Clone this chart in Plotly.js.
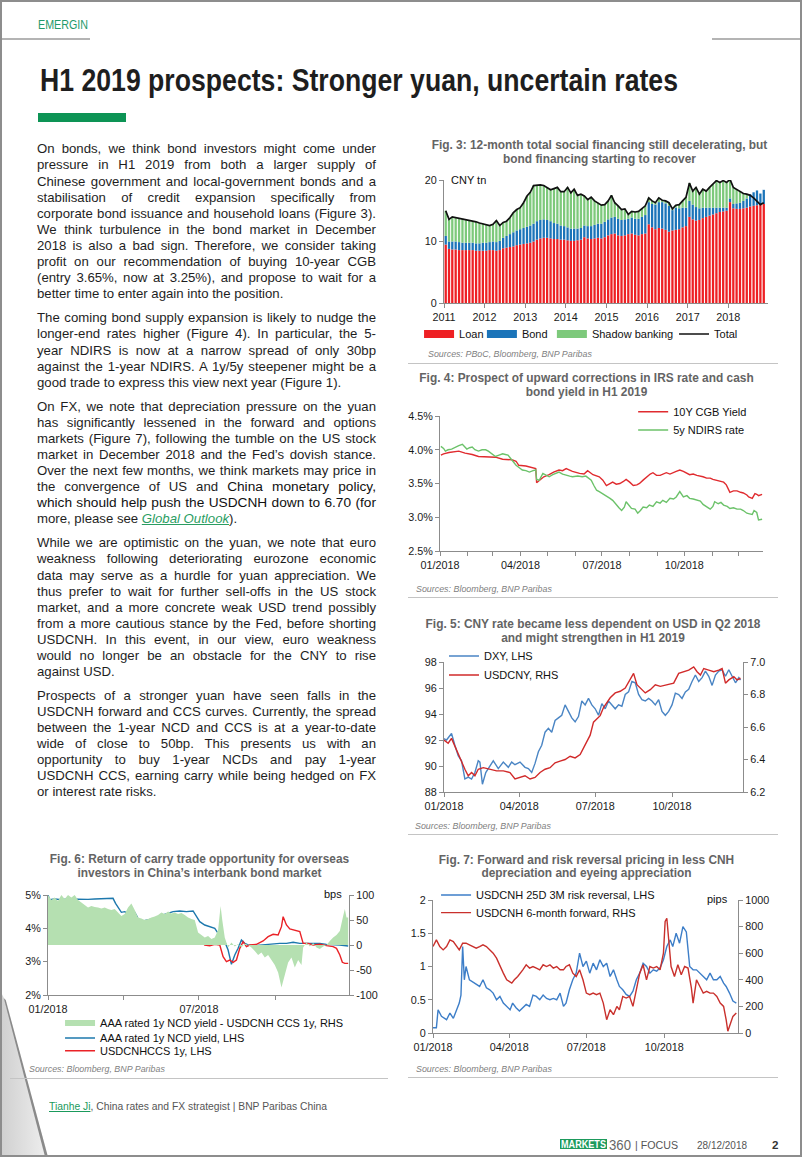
<!DOCTYPE html>
<html><head><meta charset="utf-8">
<script src="https://cdn.plot.ly/plotly-3.0.1.min.js"></script>
<style>
html,body{margin:0;padding:0;background:#fff;}
#page{position:relative;width:802px;height:1157px;overflow:hidden;background:#fff;font-family:"Liberation Sans",Arial,sans-serif;}
.abs{position:absolute;}
.fit{transform-origin:0 0;white-space:nowrap;}
.ln{position:absolute;left:37px;height:16px;line-height:16px;font-size:13.2px;color:#1e1e1e;white-space:nowrap;}
.big{font-size:13.7px;color:#111;}
.lk{color:#2a9d62;font-style:italic;text-decoration:underline;}
.ctitle{position:absolute;width:420px;font-weight:bold;font-size:11.9px;line-height:14px;color:#646464;text-align:center;white-space:nowrap;}
.src{position:absolute;font-style:italic;font-size:8.9px;line-height:10px;color:#7f7f7f;white-space:nowrap;}
.sep{position:absolute;height:1px;background:#c4c4c4;}
.chart{position:absolute;}
</style></head>
<body>
<div id="page">
  <div class="abs" style="left:0;top:990px;width:48px;height:167px;background:linear-gradient(to right,#cfcfcf,#efefef);clip-path:polygon(0 0,10% 6%,100% 100%,0 100%);"></div>
  <div class="abs" style="left:0;top:990px;width:48px;height:167px;background:#8a8a8a;clip-path:polygon(8% 5%,12% 6%,100% 100%,94% 100%);"></div>

  <div class="abs fit" data-w="50" style="left:38px;top:17px;font-size:13px;line-height:16px;color:#1f9a6b;">EMERGIN</div>
  <div class="abs" style="left:0;top:38px;width:90px;height:2px;background:#b4b4b4"></div>
  <div class="abs" style="left:712px;top:38px;width:90px;height:2px;background:#b4b4b4"></div>
  <div class="abs fit" data-w="638" style="left:40px;top:64.5px;font-size:30.5px;line-height:30px;font-weight:bold;color:#1e1e1e;">H1 2019 prospects: Stronger yuan, uncertain rates</div>
  <div class="abs" style="left:38px;top:113px;width:88px;height:9px;background:#0d9455"></div>

  <div id="body"></div>

  <div class="ctitle" style="left:389.5px;top:138px;">Fig. 3: 12-month total social financing still decelerating, but<br>bond financing starting to recover</div>
  <div class="ctitle" style="left:376.5px;top:371px;">Fig. 4: Prospect of upward corrections in IRS rate and cash<br>bond yield in H1 2019</div>
  <div class="ctitle" style="left:383px;top:617.3px;">Fig. 5: CNY rate became less dependent on USD in Q2 2018<br>and might strengthen in H1 2019</div>
  <div class="ctitle" style="left:-10.5px;top:852.3px;">Fig. 6: Return of carry trade opportunity for overseas<br>investors in China’s interbank bond market</div>
  <div class="ctitle" style="left:376.5px;top:853.7px;line-height:13.4px;">Fig. 7: Forward and risk reversal pricing in less CNH<br>depreciation and eyeing appreciation</div>

  <div id="fig3" class="chart" style="left:400px;top:140px;width:400px;height:230px;"></div>
  <div id="fig4" class="chart" style="left:400px;top:395px;width:400px;height:205px;"></div>
  <div id="fig5" class="chart" style="left:400px;top:640px;width:400px;height:190px;"></div>
  <div id="fig6" class="chart" style="left:0px;top:880px;width:400px;height:190px;"></div>
  <div id="fig7" class="chart" style="left:400px;top:880px;width:400px;height:190px;"></div>

  <div class="src" style="left:428px;top:349px;">Sources: PBoC, Bloomberg, BNP Paribas</div>
  <div class="src" style="left:416px;top:584px;">Sources: Bloomberg, BNP Paribas</div>
  <div class="src" style="left:415px;top:821px;">Sources: Bloomberg, BNP Paribas</div>
  <div class="src" style="left:29px;top:1064px;">Sources: Bloomberg, BNP Paribas</div>
  <div class="src" style="left:416px;top:1064px;">Sources: Bloomberg, BNP Paribas</div>

  <div class="sep" style="left:408px;top:363px;width:370px;"></div>
  <div class="sep" style="left:408px;top:597px;width:370px;"></div>
  <div class="sep" style="left:408px;top:834px;width:370px;"></div>
  <div class="sep" style="left:10px;top:1078px;width:378px;"></div>
  <div class="sep" style="left:408px;top:1077px;width:370px;"></div>

  <div class="abs fit" data-w="278" style="left:48.6px;top:1099px;font-size:11.3px;line-height:14px;color:#555;"><span style="color:#1a9a5c;text-decoration:underline;">Tianhe Ji</span>, China rates and FX strategist | BNP Paribas China</div>
  <div class="abs" style="left:560px;top:1139px;width:47px;height:10px;background:#1d9a5c;overflow:hidden;">
    <div class="fit" data-w="45" style="position:absolute;left:1px;top:-1px;color:#fff;font-weight:bold;font-size:11.5px;line-height:12px;">MARKETS</div>
  </div>
  <div class="abs fit" data-w="22" style="left:608.5px;top:1136.5px;font-size:14px;line-height:16px;color:#666;">360</div>
  <div class="abs fit" data-w="43" style="left:635px;top:1137.5px;font-size:11.6px;line-height:13px;color:#555;">| FOCUS</div>
  <div class="abs fit" data-w="50" style="left:697px;top:1137.5px;font-size:11.6px;line-height:13px;color:#555;">28/12/2018</div>
  <div class="abs" style="left:772px;top:1137.5px;font-size:11.6px;line-height:13px;color:#333;font-weight:bold;">2</div>

  <div class="abs" style="left:0;top:0;width:802px;height:1157px;box-sizing:border-box;border:2px solid #8d8d8d;pointer-events:none;"></div>
</div>

<script>
// ---------------- DATA ----------------
// Fig. 3 – 12-month total social financing (CNY tn), monthly Jan 2011 – Nov 2018
const months3 = [
'2011-01','2011-02','2011-03','2011-04','2011-05','2011-06','2011-07','2011-08','2011-09','2011-10','2011-11','2011-12',
'2012-01','2012-02','2012-03','2012-04','2012-05','2012-06','2012-07','2012-08','2012-09','2012-10','2012-11','2012-12',
'2013-01','2013-02','2013-03','2013-04','2013-05','2013-06','2013-07','2013-08','2013-09','2013-10','2013-11','2013-12',
'2014-01','2014-02','2014-03','2014-04','2014-05','2014-06','2014-07','2014-08','2014-09','2014-10','2014-11','2014-12',
'2015-01','2015-02','2015-03','2015-04','2015-05','2015-06','2015-07','2015-08','2015-09','2015-10','2015-11','2015-12',
'2016-01','2016-02','2016-03','2016-04','2016-05','2016-06','2016-07','2016-08','2016-09','2016-10','2016-11','2016-12',
'2017-01','2017-02','2017-03','2017-04','2017-05','2017-06','2017-07','2017-08','2017-09','2017-10','2017-11','2017-12',
'2018-01','2018-02','2018-03','2018-04','2018-05','2018-06','2018-07','2018-08','2018-09','2018-10','2018-11'];
const loan3 = [
9.5,8.8,8.7,8.7,8.6,8.6,8.6,8.6,8.6,8.5,8.5,8.5,
8.5,8.6,8.6,8.5,8.6,8.9,9.0,9.1,9.2,9.4,9.5,9.6,
9.7,9.8,10.0,10.3,10.5,10.6,10.6,10.5,10.4,10.4,10.3,10.3,
10.2,10.1,10.1,10.2,10.3,10.7,10.5,10.4,10.5,10.6,10.5,10.7,
11.0,11.2,11.3,11.0,10.9,11.0,11.2,11.3,11.1,11.0,11.2,11.3,
12.8,12.3,12.0,12.2,12.1,11.9,11.6,11.8,11.9,12.0,12.3,12.5,
14.0,13.6,13.4,13.5,13.8,14.0,14.2,14.4,14.6,14.8,14.9,15.0,
16.4,15.4,15.3,15.3,15.4,15.5,15.7,15.8,15.9,16.0,16.1];
const bond3 = [
1.4,1.2,1.3,1.3,1.3,1.2,1.2,1.2,1.2,1.2,1.2,1.3,
1.3,1.3,1.4,1.4,1.5,1.7,1.9,2.1,2.3,2.4,2.5,2.6,
2.7,2.8,2.9,3.0,3.0,3.0,2.9,2.8,2.6,2.5,2.3,2.2,
2.1,2.0,2.0,1.9,1.9,1.9,2.0,2.1,2.2,2.3,2.4,2.5,
2.6,2.7,2.7,2.7,2.6,2.6,2.5,2.6,2.6,2.7,2.8,3.0,
3.6,3.8,4.0,4.2,4.3,4.3,4.2,3.3,3.6,3.4,3.2,3.0,
2.6,2.4,2.2,1.9,1.7,1.5,1.3,1.1,0.9,0.7,0.6,0.5,
0.6,0.7,0.9,1.0,1.2,1.5,2.0,2.2,2.4,1.8,2.3];
const shadow3 = [
4.1,3.6,4.0,3.9,3.9,3.9,3.7,3.6,3.5,3.5,3.3,3.1,
3.0,2.7,2.8,3.5,2.5,2.5,2.4,2.7,3.2,3.4,3.5,4.1,
5.0,5.4,6.2,5.9,5.7,5.5,5.3,5.1,5.6,5.9,5.5,5.6,
6.5,5.8,6.4,5.4,5.5,4.8,4.3,4.7,3.9,3.4,3.0,2.8,
3.0,3.6,2.3,2.1,1.7,1.7,0.7,1.0,1.1,1.2,1.3,1.5,
0.7,0.5,0.3,0.7,0.3,0.4,0.5,0.2,0.4,0.6,1.1,1.7,
2.9,2.2,3.2,2.3,3.0,2.7,3.3,3.8,4.4,4.1,4.4,4.1,
3.1,2.7,2.3,1.9,1.2,0.7,-0.2,-0.9,-1.7,-1.8,-2.1];
const total3 = [
15.0,13.6,14.0,13.9,13.8,13.7,13.5,13.4,13.3,13.2,13.0,12.9,
12.8,12.6,12.8,13.4,12.6,13.1,13.3,13.9,14.7,15.2,15.5,16.3,
17.4,18.0,19.1,19.2,19.2,19.1,18.8,18.4,18.6,18.8,18.1,18.1,
18.8,17.9,18.5,17.5,17.7,17.4,16.8,17.2,16.6,16.3,15.9,16.0,
16.6,17.5,16.3,15.8,15.2,15.3,14.4,14.9,14.8,14.9,15.3,15.8,
17.1,16.6,16.3,17.1,16.7,16.6,16.3,15.3,15.9,16.0,16.6,17.2,
19.5,18.2,18.8,17.7,18.5,18.2,18.8,19.3,19.9,19.6,19.9,19.6,
20.1,18.8,18.5,18.2,17.8,17.7,17.5,17.1,16.6,16.0,16.3];
const names3 = ['Loan','Bond','Shadow banking','Total'];

// Fig. 4 – 10Y CGB yield and 5y NDIRS rate (%)
const cgbDates = ['2018-01-02','2018-01-05','2018-01-11','2018-01-16','2018-01-22','2018-01-29','2018-02-06','2018-02-13','2018-02-21','2018-02-28','2018-03-04','2018-03-12','2018-03-16','2018-03-23','2018-03-27','2018-03-30','2018-04-07','2018-04-14','2018-04-18','2018-04-19','2018-04-23','2018-04-27','2018-05-03','2018-05-08','2018-05-14','2018-05-18','2018-05-22','2018-05-29','2018-06-06','2018-06-11','2018-06-15','2018-06-21','2018-06-28','2018-07-02','2018-07-06','2018-07-10','2018-07-13','2018-07-17','2018-07-21','2018-07-25','2018-07-28','2018-08-01','2018-08-05','2018-08-09','2018-08-12','2018-08-16','2018-08-20','2018-08-24','2018-08-27','2018-08-31','2018-09-04','2018-09-08','2018-09-11','2018-09-15','2018-09-19','2018-09-22','2018-09-26','2018-09-30','2018-10-07','2018-10-11','2018-10-15','2018-10-19','2018-10-22','2018-10-26','2018-10-30','2018-11-02','2018-11-06','2018-11-10','2018-11-14','2018-11-17','2018-11-19','2018-11-21','2018-11-25','2018-11-29','2018-12-03','2018-12-06','2018-12-10','2018-12-12','2018-12-16','2018-12-19','2018-12-21','2018-12-23','2018-12-27'];
const cgbYield = [3.92,3.94,3.96,3.97,3.98,3.95,3.93,3.90,3.90,3.89,3.89,3.86,3.86,3.85,3.83,3.77,3.76,3.74,3.72,3.51,3.55,3.60,3.63,3.67,3.70,3.69,3.72,3.68,3.65,3.64,3.69,3.63,3.60,3.55,3.47,3.50,3.52,3.49,3.50,3.53,3.56,3.52,3.47,3.48,3.50,3.55,3.60,3.64,3.66,3.62,3.62,3.65,3.66,3.64,3.67,3.68,3.70,3.68,3.63,3.64,3.62,3.61,3.60,3.58,3.58,3.56,3.55,3.53,3.52,3.48,3.43,3.37,3.39,3.39,3.37,3.36,3.33,3.30,3.28,3.35,3.34,3.32,3.34];
const ndirsDates = ['2018-01-02','2018-01-05','2018-01-07','2018-01-10','2018-01-14','2018-01-18','2018-01-22','2018-01-26','2018-01-31','2018-02-03','2018-02-06','2018-02-09','2018-02-13','2018-02-17','2018-02-21','2018-02-24','2018-02-27','2018-03-04','2018-03-08','2018-03-12','2018-03-15','2018-03-18','2018-03-21','2018-03-24','2018-03-27','2018-03-31','2018-04-03','2018-04-07','2018-04-11','2018-04-15','2018-04-18','2018-04-19','2018-04-22','2018-04-26','2018-04-30','2018-05-03','2018-05-07','2018-05-10','2018-05-14','2018-05-18','2018-05-22','2018-05-26','2018-05-29','2018-06-04','2018-06-09','2018-06-13','2018-06-16','2018-06-19','2018-06-22','2018-06-25','2018-06-28','2018-07-02','2018-07-06','2018-07-10','2018-07-13','2018-07-17','2018-07-20','2018-07-23','2018-07-26','2018-07-28','2018-07-31','2018-08-03','2018-08-07','2018-08-10','2018-08-13','2018-08-16','2018-08-20','2018-08-23','2018-08-27','2018-08-31','2018-09-04','2018-09-07','2018-09-11','2018-09-15','2018-09-19','2018-09-22','2018-09-26','2018-09-30','2018-10-04','2018-10-07','2018-10-11','2018-10-15','2018-10-19','2018-10-22','2018-10-26','2018-10-30','2018-11-02','2018-11-04','2018-11-08','2018-11-11','2018-11-14','2018-11-18','2018-11-21','2018-11-25','2018-11-29','2018-12-03','2018-12-06','2018-12-10','2018-12-13','2018-12-16','2018-12-18','2018-12-20','2018-12-21','2018-12-23','2018-12-27'];
const ndirsRate = [4.05,4.02,3.98,4.00,4.01,4.04,4.06,4.08,4.01,4.03,4.04,4.00,3.98,4.00,4.00,3.98,3.95,3.90,3.92,3.94,3.93,3.92,3.87,3.82,3.77,3.73,3.70,3.69,3.67,3.69,3.70,3.56,3.55,3.65,3.62,3.60,3.63,3.65,3.67,3.64,3.62,3.61,3.60,3.61,3.60,3.61,3.58,3.55,3.47,3.40,3.38,3.35,3.32,3.28,3.25,3.18,3.14,3.10,3.15,3.23,3.17,3.13,3.12,3.06,3.10,3.15,3.14,3.18,3.16,3.23,3.21,3.25,3.22,3.28,3.27,3.30,3.38,3.30,3.32,3.28,3.27,3.25,3.24,3.19,3.16,3.12,3.16,3.23,3.20,3.22,3.18,3.16,3.13,3.14,3.12,3.12,3.10,3.06,3.05,3.04,3.10,3.08,3.07,2.96,2.97];

// Fig. 5 – DXY (LHS) and USDCNY (RHS)
const dxyDates = ['2018-01-01','2018-01-04','2018-01-07','2018-01-10','2018-01-14','2018-01-18','2018-01-22','2018-01-26','2018-01-30','2018-02-03','2018-02-07','2018-02-11','2018-02-13','2018-02-16','2018-02-20','2018-02-23','2018-03-01','2018-03-07','2018-03-13','2018-03-19','2018-03-23','2018-03-27','2018-04-02','2018-04-08','2018-04-12','2018-04-16','2018-04-20','2018-04-24','2018-04-28','2018-05-02','2018-05-06','2018-05-10','2018-05-14','2018-05-18','2018-05-22','2018-05-26','2018-05-30','2018-06-03','2018-06-07','2018-06-11','2018-06-15','2018-06-19','2018-06-23','2018-06-27','2018-07-01','2018-07-05','2018-07-09','2018-07-13','2018-07-17','2018-07-21','2018-07-25','2018-07-29','2018-08-02','2018-08-06','2018-08-10','2018-08-14','2018-08-18','2018-08-22','2018-08-26','2018-08-30','2018-09-03','2018-09-07','2018-09-11','2018-09-15','2018-09-19','2018-09-23','2018-09-27','2018-10-01','2018-10-05','2018-10-09','2018-10-13','2018-10-17','2018-10-21','2018-10-25','2018-10-29','2018-11-02','2018-11-06','2018-11-10','2018-11-14','2018-11-18','2018-11-22','2018-11-26','2018-11-30','2018-12-04','2018-12-08','2018-12-12','2018-12-16','2018-12-20','2018-12-22'];
const dxy = [92.1,92.0,92.25,92.5,91.6,90.8,90.4,89.0,89.15,89.0,89.5,90.4,90.3,88.6,89.5,89.8,90.4,89.8,90.3,89.9,90.3,90.1,90.3,89.9,89.8,89.5,90.2,91.1,91.6,92.6,92.9,92.6,93.5,93.7,93.9,94.7,94.2,93.7,93.4,93.8,95.0,94.7,95.2,94.7,94.4,93.9,94.8,94.4,95.0,94.7,94.4,94.7,94.6,95.5,95.7,96.5,96.4,95.5,95.1,95.0,95.2,95.0,94.7,95.1,94.2,93.9,94.2,94.7,95.6,95.5,95.2,95.7,95.9,96.5,97.0,96.5,96.8,97.3,96.9,96.2,97.0,97.3,97.4,96.9,97.4,96.9,96.4,96.8,96.6];
const cnyDates = ['2018-01-01','2018-01-06','2018-01-10','2018-01-14','2018-01-18','2018-01-22','2018-01-26','2018-01-30','2018-02-03','2018-02-07','2018-02-11','2018-02-17','2018-02-25','2018-03-05','2018-03-13','2018-03-21','2018-03-27','2018-04-02','2018-04-08','2018-04-14','2018-04-20','2018-04-26','2018-05-02','2018-05-08','2018-05-14','2018-05-20','2018-05-26','2018-06-01','2018-06-07','2018-06-13','2018-06-17','2018-06-21','2018-06-25','2018-06-29','2018-07-03','2018-07-07','2018-07-11','2018-07-15','2018-07-19','2018-07-25','2018-07-31','2018-08-06','2018-08-12','2018-08-16','2018-08-20','2018-08-24','2018-08-30','2018-09-05','2018-09-11','2018-09-17','2018-09-25','2018-10-03','2018-10-09','2018-10-15','2018-10-21','2018-10-27','2018-10-31','2018-11-04','2018-11-08','2018-11-14','2018-11-20','2018-11-26','2018-11-30','2018-12-04','2018-12-08','2018-12-14','2018-12-18','2018-12-22'];
const usdcny = [6.52,6.50,6.53,6.48,6.43,6.39,6.34,6.30,6.32,6.30,6.34,6.35,6.34,6.33,6.33,6.32,6.28,6.29,6.30,6.28,6.29,6.32,6.34,6.35,6.38,6.39,6.40,6.42,6.41,6.43,6.47,6.50,6.55,6.63,6.65,6.67,6.72,6.75,6.78,6.81,6.82,6.84,6.89,6.93,6.86,6.84,6.81,6.83,6.86,6.85,6.86,6.87,6.93,6.94,6.95,6.97,6.94,6.92,6.96,6.95,6.94,6.95,6.96,6.87,6.89,6.91,6.89,6.90];

// Fig. 6 – NCD vs CCS
const spreadDates = ['2018-01-01','2018-01-05','2018-01-09','2018-01-13','2018-01-17','2018-01-21','2018-01-25','2018-01-29','2018-02-02','2018-02-06','2018-02-10','2018-02-14','2018-02-18','2018-02-22','2018-02-26','2018-03-02','2018-03-06','2018-03-10','2018-03-14','2018-03-18','2018-03-22','2018-03-26','2018-03-30','2018-04-03','2018-04-07','2018-04-11','2018-04-15','2018-04-19','2018-04-23','2018-04-27','2018-05-01','2018-05-05','2018-05-09','2018-05-13','2018-05-17','2018-05-21','2018-05-25','2018-05-29','2018-06-02','2018-06-06','2018-06-10','2018-06-14','2018-06-18','2018-06-22','2018-06-26','2018-06-30','2018-07-04','2018-07-08','2018-07-12','2018-07-16','2018-07-20','2018-07-24','2018-07-27','2018-07-29','2018-08-01','2018-08-05','2018-08-09','2018-08-13','2018-08-17','2018-08-21','2018-08-25','2018-08-29','2018-09-02','2018-09-06','2018-09-10','2018-09-14','2018-09-18','2018-09-22','2018-09-26','2018-09-30','2018-10-04','2018-10-08','2018-10-12','2018-10-16','2018-10-20','2018-10-24','2018-10-28','2018-11-01','2018-11-03','2018-11-07','2018-11-11','2018-11-15','2018-11-19','2018-11-23','2018-11-27','2018-12-01','2018-12-05','2018-12-09','2018-12-13','2018-12-17','2018-12-21','2018-12-23','2018-12-25','2018-12-27'];
const spreadBps = [100,90,95,88,100,92,100,95,100,90,85,80,75,78,76,75,73,75,72,70,72,65,58,62,75,83,70,55,53,50,52,55,57,60,65,62,67,63,65,62,64,60,55,52,50,25,20,15,18,12,15,30,78,50,15,-5,5,-3,2,-5,3,0,-5,-12,-20,-15,-25,-20,-30,-40,-55,-85,-60,-35,-25,-45,-30,-40,-5,5,-3,4,-5,-8,-3,0,8,15,20,28,58,72,55,55];
const ncdDates = ['2018-01-01','2018-01-03','2018-01-09','2018-01-17','2018-01-25','2018-02-02','2018-02-10','2018-02-18','2018-02-26','2018-03-06','2018-03-14','2018-03-20','2018-03-23','2018-03-26','2018-03-30','2018-04-03','2018-04-07','2018-04-11','2018-04-15','2018-04-18','2018-04-20','2018-04-25','2018-05-01','2018-05-07','2018-05-13','2018-05-19','2018-05-25','2018-05-31','2018-06-08','2018-06-16','2018-06-24','2018-06-28','2018-07-02','2018-07-08','2018-07-14','2018-07-20','2018-07-24','2018-07-28','2018-08-01','2018-08-05','2018-08-09','2018-08-13','2018-08-17','2018-08-21','2018-08-25','2018-08-29','2018-09-04','2018-09-12','2018-09-20','2018-09-28','2018-10-06','2018-10-14','2018-10-22','2018-10-30','2018-11-07','2018-11-15','2018-11-23','2018-12-01','2018-12-09','2018-12-17','2018-12-27'];
const ncdYield = [5.00,4.86,4.88,4.86,4.88,4.87,4.88,4.87,4.88,4.88,4.90,4.90,4.75,4.62,4.48,4.50,4.45,4.52,4.48,4.35,4.20,4.22,4.25,4.30,4.32,4.40,4.45,4.50,4.52,4.50,4.52,4.35,4.20,4.10,4.05,4.00,3.85,3.78,3.60,3.35,2.92,3.20,3.40,3.65,3.55,3.50,3.48,3.50,3.52,3.55,3.55,3.55,3.58,3.55,3.55,3.55,3.55,3.52,3.52,3.50,3.47];
const ccsDates = ['2018-01-01','2018-01-05','2018-01-09','2018-01-13','2018-01-17','2018-01-23','2018-01-29','2018-02-04','2018-02-10','2018-02-16','2018-02-22','2018-02-28','2018-03-06','2018-03-12','2018-03-18','2018-03-22','2018-03-26','2018-03-30','2018-04-05','2018-04-09','2018-04-13','2018-04-19','2018-04-25','2018-05-03','2018-05-11','2018-05-19','2018-05-27','2018-06-04','2018-06-12','2018-06-20','2018-06-26','2018-06-30','2018-07-04','2018-07-08','2018-07-14','2018-07-20','2018-07-26','2018-07-30','2018-08-03','2018-08-07','2018-08-11','2018-08-15','2018-08-19','2018-08-23','2018-08-27','2018-08-31','2018-09-08','2018-09-16','2018-09-22','2018-09-28','2018-10-04','2018-10-08','2018-10-10','2018-10-14','2018-10-18','2018-10-24','2018-10-30','2018-11-03','2018-11-09','2018-11-15','2018-11-23','2018-12-01','2018-12-09','2018-12-13','2018-12-17','2018-12-20','2018-12-23','2018-12-27'];
const ccsRate = [3.85,3.95,3.92,3.98,3.93,3.95,3.90,3.92,4.05,4.08,4.12,4.10,4.15,4.20,4.18,4.20,3.90,3.85,3.75,3.68,3.78,3.85,3.92,3.90,3.95,3.98,3.96,3.98,3.96,4.00,3.92,3.80,3.62,3.50,3.48,3.52,3.50,3.15,3.00,3.05,2.98,3.05,3.40,3.60,3.45,3.50,3.52,3.62,3.75,3.82,3.80,4.05,4.35,4.10,3.98,3.95,3.90,3.55,3.55,3.50,3.52,3.48,3.45,3.40,3.20,2.98,2.95,2.95];
const bpsTickVals = [-100,-50,0,50,100];
const bpsTickText = ['-100','-50','0','50','100'];
const qTickVals6 = ['2018-01-01','2018-04-01','2018-07-01','2018-10-01'];
const qTickText6 = ['01/2018','','07/2018',''];

// Fig. 7 – risk reversal (LHS) and 6m forward (RHS, pips)
const rrDates = ['2018-01-01','2018-01-05','2018-01-07','2018-01-11','2018-01-17','2018-01-21','2018-01-25','2018-01-29','2018-02-01','2018-02-03','2018-02-05','2018-02-07','2018-02-09','2018-02-13','2018-02-19','2018-02-25','2018-03-01','2018-03-05','2018-03-09','2018-03-13','2018-03-17','2018-03-21','2018-03-25','2018-03-29','2018-04-02','2018-04-05','2018-04-09','2018-04-13','2018-04-17','2018-04-21','2018-04-25','2018-04-29','2018-05-03','2018-05-07','2018-05-11','2018-05-15','2018-05-19','2018-05-23','2018-05-27','2018-05-31','2018-06-04','2018-06-07','2018-06-11','2018-06-15','2018-06-19','2018-06-23','2018-06-27','2018-07-01','2018-07-05','2018-07-09','2018-07-13','2018-07-17','2018-07-21','2018-07-25','2018-07-29','2018-08-02','2018-08-06','2018-08-09','2018-08-13','2018-08-17','2018-08-21','2018-08-25','2018-08-29','2018-09-02','2018-09-06','2018-09-10','2018-09-14','2018-09-18','2018-09-22','2018-09-26','2018-09-30','2018-10-04','2018-10-08','2018-10-11','2018-10-15','2018-10-19','2018-10-23','2018-10-27','2018-10-31','2018-11-04','2018-11-08','2018-11-12','2018-11-16','2018-11-20','2018-11-24','2018-11-28','2018-12-02','2018-12-06','2018-12-10','2018-12-13','2018-12-17','2018-12-21','2018-12-25'];
const riskRev = [0.08,0.08,0.35,0.25,0.20,0.30,0.22,0.35,0.45,0.57,1.30,0.80,1.00,0.80,0.75,0.70,0.80,0.68,0.65,0.60,0.50,0.55,0.45,0.40,0.35,0.45,0.38,0.33,0.38,0.43,0.40,0.57,0.55,0.50,0.57,0.52,0.50,0.52,0.50,0.60,0.40,0.45,0.65,0.80,0.90,1.20,1.00,1.08,0.90,1.05,0.95,1.10,1.00,1.05,0.85,0.95,0.80,0.70,0.65,0.58,0.55,0.63,0.80,0.90,1.05,1.00,0.90,0.95,0.93,0.98,1.10,1.30,1.40,1.30,1.50,1.35,1.60,1.52,1.00,0.95,0.95,0.90,0.85,0.80,0.90,0.80,0.80,0.85,0.75,0.70,0.60,0.48,0.45];
const fwdDates = ['2018-01-01','2018-01-05','2018-01-09','2018-01-13','2018-01-17','2018-01-21','2018-01-25','2018-01-29','2018-02-01','2018-02-05','2018-02-09','2018-02-13','2018-02-17','2018-02-21','2018-02-25','2018-03-01','2018-03-05','2018-03-09','2018-03-13','2018-03-17','2018-03-21','2018-03-25','2018-03-29','2018-04-04','2018-04-07','2018-04-11','2018-04-17','2018-04-21','2018-04-25','2018-04-29','2018-05-03','2018-05-07','2018-05-11','2018-05-15','2018-05-19','2018-05-23','2018-05-27','2018-05-31','2018-06-04','2018-06-07','2018-06-11','2018-06-15','2018-06-19','2018-06-23','2018-06-27','2018-07-01','2018-07-05','2018-07-09','2018-07-13','2018-07-17','2018-07-21','2018-07-25','2018-07-29','2018-08-02','2018-08-06','2018-08-09','2018-08-13','2018-08-17','2018-08-21','2018-08-25','2018-08-29','2018-09-02','2018-09-06','2018-09-10','2018-09-14','2018-09-18','2018-09-22','2018-09-26','2018-09-30','2018-10-02','2018-10-04','2018-10-06','2018-10-09','2018-10-13','2018-10-17','2018-10-21','2018-10-25','2018-10-29','2018-11-02','2018-11-04','2018-11-08','2018-11-12','2018-11-16','2018-11-20','2018-11-24','2018-11-28','2018-12-02','2018-12-06','2018-12-10','2018-12-13','2018-12-15','2018-12-17','2018-12-21','2018-12-25'];
const fwdPips = [650,700,650,625,650,700,688,650,625,675,675,663,650,638,650,663,650,625,600,563,500,450,400,375,400,425,475,513,488,500,488,475,513,500,513,488,500,475,475,500,513,450,425,475,400,300,288,300,288,300,225,100,175,138,200,175,275,263,275,200,325,450,513,400,500,488,500,475,600,838,863,700,500,425,513,438,500,488,338,225,400,350,300,313,300,300,275,225,200,100,13,50,125,150];

// ---------------- BODY TEXT ----------------
const bodyParas = [
 {top:141.4, lines:[
  'On bonds, we think bond investors might come under',
  'pressure in H1 2019 from both a larger supply of',
  'Chinese government and local-government bonds and a',
  'stabilisation of credit expansion specifically from',
  'corporate bond issuance and household loans (Figure 3).',
  'We think turbulence in the bond market in December',
  '2018 is also a bad sign. Therefore, we consider taking',
  'profit on our recommendation of buying 10-year CGB',
  '(entry 3.65%, now at 3.25%), and propose to wait for a',
  'better time to enter again into the position.']},
 {top:310.4, lines:[
  'The coming bond supply expansion is likely to nudge the',
  'longer-end rates higher (Figure 4). In particular, the 5-',
  'year NDIRS is now at a narrow spread of only 30bp',
  'against the 1-year NDIRS. A 1y/5y steepener might be a',
  'good trade to express this view next year (Figure 1).']},
 {top:398.8, lines:[
  'On FX, we note that depreciation pressure on the yuan',
  'has significantly lessened in the forward and options',
  'markets (Figure 7), following the tumble on the US stock',
  'market in December 2018 and the Fed’s dovish stance.',
  'Over the next few months, we think markets may price in',
  'the convergence of US and <span class="big">China monetary policy,</span>',
  '<span class="big">which should help push the USDCNH down to 6.70 (for</span>',
  'more, please see <span class="lk">Global Outlook</span>).']},
 {top:535.4, lines:[
  'While we are optimistic on the yuan, we note that euro',
  'weakness following deteriorating eurozone economic',
  'data may serve as a hurdle for yuan appreciation. We',
  'thus prefer to wait for further sell-offs in the US stock',
  'market, and a more concrete weak USD trend possibly',
  'from a more cautious stance by the Fed, before shorting',
  'USDCNH. In this event, in our view, euro weakness',
  'would no longer be an obstacle for the CNY to rise',
  'against USD.']},
 {top:688.1, lines:[
  'Prospects of a stronger yuan have seen falls in the',
  'USDCNH forward and CCS curves. Currently, the spread',
  'between the 1-year NCD and CCS is at a year-to-date',
  'wide of close to 50bp. This presents us with an',
  'opportunity to buy 1-year NCDs and pay 1-year',
  'USDCNH CCS, earning carry while being hedged on FX',
  'or interest rate risks.']}
];

// ---------------- RENDER ----------------
const FONT = '"Liberation Sans",Arial,sans-serif';
const TICK = {family:FONT, size:10.8, color:'#1a1a1a'};
const LEGF = {family:FONT, size:11, color:'#111'};
const AXC = '#8c8c8c';
const CFG = {staticPlot:true, displayModeBar:false};

function ax(extra){
  return Object.assign({showline:true, linecolor:AXC, linewidth:1, ticks:'outside', ticklen:4, tickwidth:1,
    tickcolor:AXC, showgrid:false, zeroline:false, fixedrange:true, tickfont:TICK}, extra);
}
function leg(x, y){
  return {x:x, y:y, xanchor:'left', yanchor:'middle', bgcolor:'rgba(0,0,0,0)', borderwidth:0,
    font:LEGF, itemwidth:30, orientation:'v'};
}
function base(w, h, m){
  return {width:w, height:h, margin:Object.assign({autoexpand:false, pad:0}, m),
    paper_bgcolor:'rgba(0,0,0,0)', plot_bgcolor:'rgba(0,0,0,0)', showlegend:true, hovermode:false,
    font:{family:FONT, size:11, color:'#1a1a1a'}};
}

function buildBody(){
  const host = document.getElementById('body');
  const pitch = 16.05;
  bodyParas.forEach(p => {
    p.lines.forEach((html, i) => {
      const d = document.createElement('div');
      d.className = 'ln';
      d.style.top = (p.top + i * pitch) + 'px';
      const s = document.createElement('span');
      s.innerHTML = html;
      d.appendChild(s);
      host.appendChild(d);
      if (i < p.lines.length - 1) {
        const w = s.getBoundingClientRect().width;
        const n = (s.textContent.match(/ /g) || []).length;
        if (n > 0) s.style.wordSpacing = ((339 - w) / n) + 'px';
      }
    });
  });
  document.querySelectorAll('.fit').forEach(el => {
    const target = parseFloat(el.getAttribute('data-w'));
    el.style.display = 'inline-block';
    const w = el.getBoundingClientRect().width;
    if (w > 0) el.style.transform = 'scaleX(' + (target / w) + ')';
  });
}

function fig3(){
  const RED = '#ee2024', BLUE = '#1b74b9', GREEN = '#7dc97b';
  const common = {type:'bar', x:months3, xperiod:'M1', xperiodalignment:'middle', showlegend:false, hoverinfo:'skip'};
  const data = [
    Object.assign({}, common, {y:loan3, name:names3[0], marker:{color:RED, line:{width:0}}}),
    Object.assign({}, common, {y:bond3, name:names3[1], marker:{color:BLUE, line:{width:0}}}),
    Object.assign({}, common, {y:shadow3, name:names3[2], marker:{color:GREEN, line:{width:0}}}),
    {type:'scatter', mode:'lines', x:months3, y:total3, xperiod:'M1', xperiodalignment:'middle', name:names3[3],
      line:{color:'#111', width:1.7}, showlegend:false, hoverinfo:'skip'},
    {type:'scatter', mode:'lines', x:[null], y:[null], name:names3[0], line:{color:RED, width:8}, legend:'legend'},
    {type:'scatter', mode:'lines', x:[null], y:[null], name:names3[1], line:{color:BLUE, width:8}, legend:'legend2'},
    {type:'scatter', mode:'lines', x:[null], y:[null], name:names3[2], line:{color:GREEN, width:8}, legend:'legend3'},
    {type:'scatter', mode:'lines', x:[null], y:[null], name:names3[3], line:{color:'#111', width:1.7}, legend:'legend4'}
  ];
  const L = base(400, 230, {l:44, r:32, t:40, b:67});
  L.barmode = 'relative'; L.bargap = 0.3;
  L.xaxis = ax({type:'date', range:['2011-01-01','2018-12-24'], tick0:'2011-01-01', dtick:'M12', tickformat:'%Y'});
  L.yaxis = ax({range:[0,20], tickvals:[0,10,20]});
  L.legend = leg(-0.077, -0.252);
  L.legend2 = leg(0.117, -0.252);
  L.legend3 = leg(0.333, -0.252);
  L.legend4 = leg(0.71, -0.252);
  L.annotations = [{xref:'paper', yref:'paper', x:0.0154, y:1.0, xanchor:'left', yanchor:'middle', showarrow:false,
    text:'CNY tn', font:LEGF}];
  Plotly.newPlot('fig3', data, L, CFG);
}

function fig4(){
  const data = [
    {type:'scatter', mode:'lines', x:cgbDates, y:cgbYield, name:'10Y CGB Yield', line:{color:'#e02b2f', width:1.4}, legend:'legend'},
    {type:'scatter', mode:'lines', x:ndirsDates, y:ndirsRate, name:'5y NDIRS rate', line:{color:'#6cc26a', width:1.4}, legend:'legend2'}
  ];
  const L = base(400, 205, {l:40, r:37, t:21, b:49});
  L.xaxis = ax({type:'date', range:['2018-01-01','2018-12-28'], tick0:'2018-01-01', dtick:'M3', tickformat:'%m/%Y',
    minor:{dtick:'M1', tick0:'2018-01-01', ticks:'outside', ticklen:4, tickwidth:1, tickcolor:AXC, showgrid:false}});
  L.yaxis = ax({range:[2.5,4.5], dtick:0.5, tickformat:'.1f', ticksuffix:'%'});
  L.legend = leg(0.598, 1.032);
  L.legend2 = leg(0.598, 0.896);
  Plotly.newPlot('fig4', data, L, CFG);
}

function fig5(){
  const data = [
    {type:'scatter', mode:'lines', x:dxyDates, y:dxy, name:'DXY, LHS', line:{color:'#4a85c4', width:1.4}, legend:'legend'},
    {type:'scatter', mode:'lines', x:cnyDates, y:usdcny, name:'USDCNY, RHS', yaxis:'y2', line:{color:'#d12a2a', width:1.4}, legend:'legend2'}
  ];
  const L = base(400, 190, {l:44, r:57, t:22, b:38});
  L.xaxis = ax({type:'date', range:['2018-01-01','2018-12-25'], tick0:'2018-01-01', dtick:'M3', tickformat:'%m/%Y'});
  L.yaxis = ax({range:[88,98], dtick:2});
  L.yaxis2 = ax({range:[6.2,7.0], dtick:0.2, tickformat:'.1f', overlaying:'y', side:'right'});
  L.legend = leg(0.0, 1.046);
  L.legend2 = leg(0.0, 0.9);
  Plotly.newPlot('fig5', data, L, CFG);
}

function fig6(){
  const data = [
    {type:'scatter', mode:'none', fill:'tozeroy', fillcolor:'#b5e0b1', x:spreadDates, y:spreadBps, yaxis:'y2',
      name:'AAA rated 1y NCD yield - USDCNH CCS 1y, RHS', legend:'legend'},
    {type:'scatter', mode:'lines', x:ncdDates, y:ncdYield, name:'AAA rated 1y NCD yield, LHS', line:{color:'#1d78ad', width:1.4}, legend:'legend2'},
    {type:'scatter', mode:'lines', x:ccsDates, y:ccsRate, name:'USDCNHCCS 1y, LHS', line:{color:'#ea2227', width:1.4}, legend:'legend3'}
  ];
  const L = base(400, 190, {l:48, r:51, t:15, b:75});
  L.xaxis = ax({type:'date', range:['2018-01-01','2018-12-28'], tickvals:qTickVals6, ticktext:qTickText6});
  L.yaxis = ax({range:[2,5], dtick:1, ticksuffix:'%'});
  L.yaxis2 = ax({range:[-100,100], tickvals:bpsTickVals, ticktext:bpsTickText, overlaying:'y', side:'right'});
  L.legend = leg(0.04, -0.28);
  L.legend2 = leg(0.04, -0.43);
  L.legend3 = leg(0.04, -0.557);
  L.annotations = [{xref:'paper', yref:'paper', x:0.9485, y:1.01, xanchor:'center', yanchor:'middle', showarrow:false,
    text:'bps', font:LEGF}];
  Plotly.newPlot('fig6', data, L, CFG);
}

function fig7(){
  const data = [
    {type:'scatter', mode:'lines', x:rrDates, y:riskRev, name:'USDCNH 25D 3M risk reversal, LHS', line:{color:'#3d7ec8', width:1.4}, legend:'legend'},
    {type:'scatter', mode:'lines', x:fwdDates, y:fwdPips, name:'USDCNH 6-month forward, RHS', yaxis:'y2', line:{color:'#c9302c', width:1.4}, legend:'legend2'}
  ];
  const L = base(400, 190, {l:33, r:62, t:20, b:37});
  L.xaxis = ax({type:'date', range:['2018-01-01','2018-12-27'], tick0:'2018-01-01', dtick:'M3', tickformat:'%m/%Y'});
  L.yaxis = ax({range:[0,2], dtick:0.5});
  L.yaxis2 = ax({range:[0,1000], dtick:200, overlaying:'y', side:'right'});
  L.legend = leg(0.01, 1.038);
  L.legend2 = leg(0.01, 0.905);
  L.annotations = [{xref:'paper', yref:'paper', x:0.934, y:1.0075, xanchor:'center', yanchor:'middle', showarrow:false,
    text:'pips', font:LEGF}];
  Plotly.newPlot('fig7', data, L, CFG);
}

function go(){ buildBody(); fig3(); fig4(); fig5(); fig6(); fig7(); }
if (document.fonts && document.fonts.ready) document.fonts.ready.then(go); else go();
</script>
</body></html>
